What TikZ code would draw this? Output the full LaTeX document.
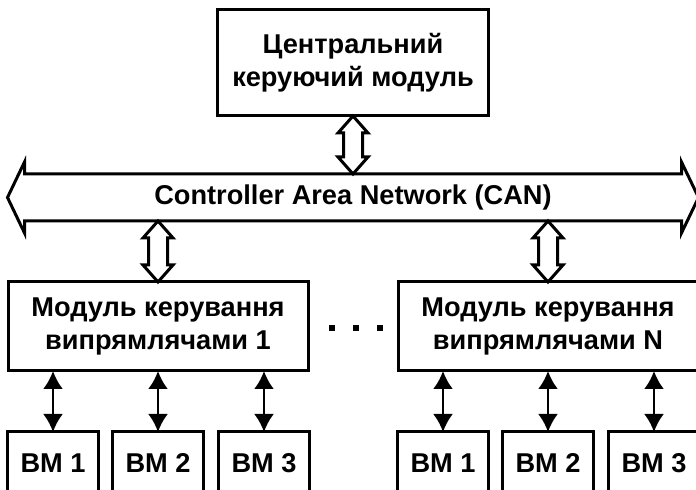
\documentclass[tikz,border=0pt]{standalone}
\usepackage{fontspec}
\setmainfont{Liberation Sans}
\usetikzlibrary{arrows.meta,positioning,calc}
\tikzset{%
  >={Latex[width=10pt,length=9pt]},
  % Specifications for style of nodes:
       base/.style = {rectangle, draw=black, line width=1.5pt,
                      inner sep=0pt, outer sep=0pt, align=center,
                      font=\bfseries\fontsize{13.6}{16.5}\selectfont},
    central/.style = {base, minimum width=135.5pt, minimum height=53pt},
     module/.style = {base, minimum width=150pt, minimum height=44.5pt},
      block/.style = {base, minimum width=45.5pt, minimum height=31pt},
    busline/.style = {base, draw=none, minimum width=328.5pt,
                      minimum height=23.5pt},
     hollow/.style = {draw=black, line width=1.5pt, fill=white},
       link/.style = {<->, line width=1.3pt},
}
% hollow double arrow between an upper and a lower point
\newcommand{\hollowlink}[2]{%
  \draw[hollow] let \p1=(#1), \p2=(#2) in
    (\x1,\y1) -- (\x1+7.5pt,\y1-8.5pt) -- (\x1+4.75pt,\y1-8.5pt)
    -- (\x1+4.75pt,\y2+8.5pt) -- (\x1+7.5pt,\y2+8.5pt) -- (\x1,\y2)
    -- (\x1-7.5pt,\y2+8.5pt) -- (\x1-4.75pt,\y2+8.5pt)
    -- (\x1-4.75pt,\y1-8.5pt) -- (\x1-7.5pt,\y1-8.5pt) -- cycle;}
\begin{document}
\begin{tikzpicture}[x=1pt, y=1pt]
  \clip (0,0) rectangle (348,-245);
  \useasboundingbox (0,0) rectangle (348,-245);
  % Specification of nodes (position, etc.)
  \node (cpu)  [central] at (176.5,-31.5)
                         {Центральний\\керуючий модуль};
  \node (bus)  [busline, below=29pt of cpu]
                         {Controller Area Network (CAN)};
  \node (modA) [module] at (79,-163.25)
                         {Модуль керування\\випрямлячами 1};
  \node (modN) [module] at (274,-163.25)
                         {Модуль керування\\випрямлячами N};
  \node (bmA2) [block, below=30.5pt of modA] {BM 2};
  \node (bmA1) [block, left=7pt of bmA2]     {BM 1};
  \node (bmA3) [block, right=7.5pt of bmA2]  {BM 3};
  \node (bmN2) [block, below=30.5pt of modN] {BM 2};
  \node (bmN1) [block, left=7pt of bmN2]     {BM 1};
  \node (bmN3) [block, right=7.5pt of bmN2]  {BM 3};
  % dots between the two modules
  \foreach \dx in {-12,0,12}
    \fill ($(modA.east)!0.5!(modN.west)+(\dx pt,0.75pt)$)
      rectangle ++(3pt,-3pt);
  % CAN bus outline
  \draw[hollow, fill=none] (bus.north west) -- (bus.north east)
    -- ++(0,6pt) -- ($(bus.east)+(8.5pt,0)$)
    -- ($(bus.south east)+(0,-6pt)$) -- (bus.south east)
    -- (bus.south west) -- ++(0,-6pt) -- ($(bus.west)+(-8.5pt,0)$)
    -- ($(bus.north west)+(0,6pt)$) -- cycle;
  % Specification of lines between nodes specified above
  \hollowlink{cpu.south}{bus.north -| cpu.south}
  \hollowlink{bus.south -| modA.north}{modA.north}
  \hollowlink{bus.south -| modN.north}{modN.north}
  \foreach \m/\b in {modA/bmA1, modA/bmA2, modA/bmA3,
                     modN/bmN1, modN/bmN2, modN/bmN3}
    \draw[link] (\m.south -| \b.north) -- (\b.north);
\end{tikzpicture}
\end{document}
